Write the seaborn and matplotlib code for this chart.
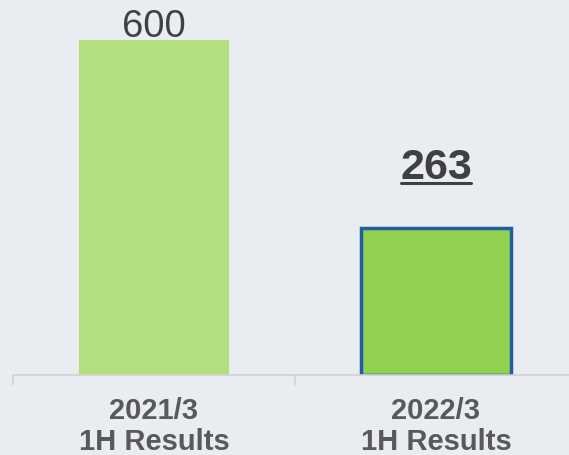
import matplotlib.pyplot as plt
import seaborn as sns
from matplotlib.lines import Line2D

periods = ["2021/3\n1H Results", "2022/3\n1H Results"]
values = [600, 263]
bar_colors = ["#b3df7f", "#92d050"]

BG = "#e9ecf0"

sns.set_theme(style="white")
plt.rcParams["font.family"] = ["Liberation Sans", "DejaVu Sans"]

fig = plt.figure(figsize=(5.69, 4.56), dpi=100, facecolor=BG)
ax = fig.add_axes([13 / 569, 80 / 456, 564 / 569, 376 / 456])
ax.set_facecolor(BG)

sns.barplot(x=periods, y=values, hue=periods, palette=bar_colors,
            legend=False, width=0.53, saturation=1, linewidth=0, ax=ax)

bars = ax.patches
bars[1].set_edgecolor("#1f5fa0")
bars[1].set_linewidth(2.5)

ax.set_xlim(-0.5, 1.5)
ax.set_ylim(0, 673)

# value labels
ax.annotate(f"{values[0]}", (0, values[0]), xytext=(0, 3), textcoords="offset points",
            ha="center", va="baseline", fontsize=27.5, color="#404040")
label2 = ax.annotate(f"{values[1]}", (1, values[1]), xytext=(0, 36), textcoords="offset points",
                     ha="center", va="baseline", fontsize=31, fontweight="bold", color="#404040")

sns.despine(ax=ax, left=True)
ax.spines["bottom"].set_color("#d0d3d6")
ax.spines["bottom"].set_linewidth(1.2)
ax.set_yticks([])
ax.set_xticks([-0.5, 0.5, 1.5], minor=True)
ax.tick_params(axis="x", which="minor", length=7, color="#d0d3d6", width=1.2, bottom=True)
ax.tick_params(axis="x", which="major", length=0, pad=15)
for lbl in ax.get_xticklabels():
    lbl.set_fontsize(21)
    lbl.set_fontweight("bold")
    lbl.set_color("#595959")
    lbl.set_linespacing(1.15)
ax.set_xlabel("")
ax.set_ylabel("")

# underline under the 263 label
fig.canvas.draw()
bb = label2.get_window_extent().transformed(fig.transFigure.inverted())
y_ul = bb.y0 + 4 / 456
fig.add_artist(Line2D([bb.x0 + 1 / 569, bb.x1 - 1 / 569], [y_ul, y_ul],
                      transform=fig.transFigure, color="#404040", lw=2.2))

fig.savefig("out.png", dpi=100, facecolor=BG)
